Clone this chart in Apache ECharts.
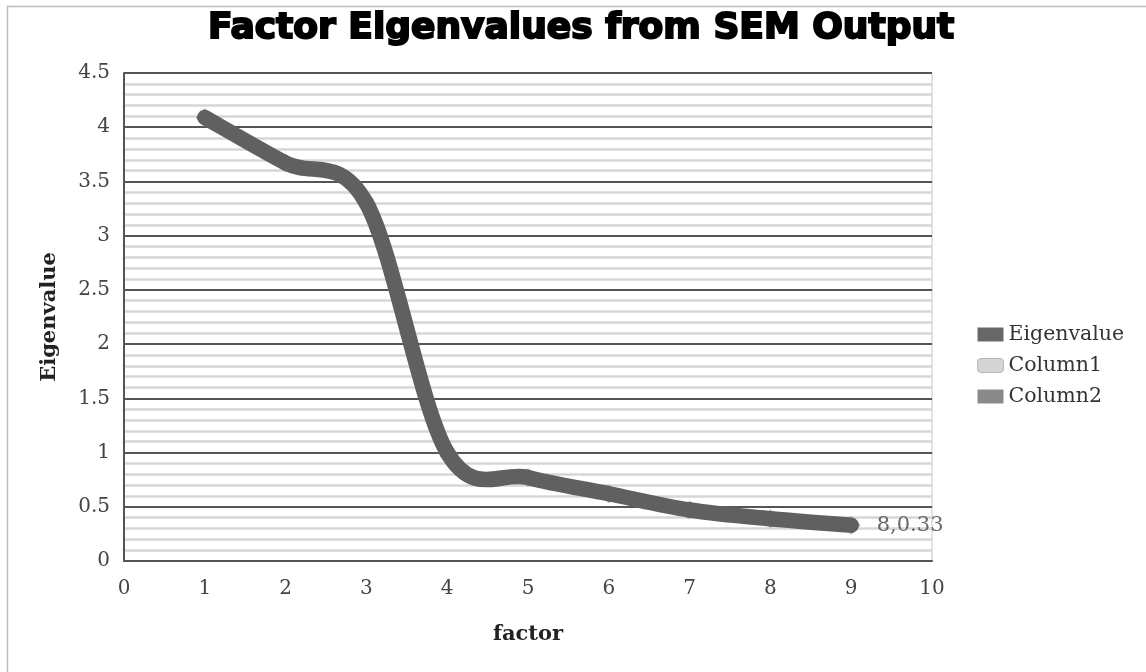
<!DOCTYPE html>
<html>
<head>
<meta charset="utf-8">
<script src="https://cdn.jsdelivr.net/npm/echarts@6/dist/echarts.min.js"></script>
<style>html,body{margin:0;padding:0;background:#fff;}#chart{width:1146px;height:672px;}</style>
</head>
<body>
<div id="chart"></div>
<script>
const factors = [1, 2, 3, 4, 5, 6, 7, 8, 9];
const eigenvalues = [4.09, 3.67, 3.3, 1.0, 0.77, 0.62, 0.47, 0.39, 0.33];
const xTicks = { min: 0, max: 10, interval: 1 };
const yTicks = { min: 0, max: 4.5, interval: 0.5 };
const lastLabel = '8,0.33';
const legendNames = ['Eigenvalue', 'Column1', 'Column2'];

const serif = 'DejaVu Serif';
const chart = echarts.init(document.getElementById('chart'), null, { renderer: 'canvas' });

function pt(api, i) {
  const j = Math.max(0, Math.min(factors.length - 1, i));
  return api.coord([factors[j], eigenvalues[j]]);
}

const option = {
  backgroundColor: '#fff',
  animation: false,
  title: {
    text: 'Factor Eigenvalues from SEM Output',
    left: 203,
    top: 6,
    textStyle: {
      fontFamily: 'DejaVu Sans', fontWeight: 'bold', fontSize: 36, color: '#000',
      textBorderColor: '#000', textBorderWidth: 2
    }
  },
  legend: {
    orient: 'vertical',
    left: 972,
    top: 319,
    itemWidth: 26,
    itemHeight: 14,
    itemGap: 10,
    textStyle: { fontFamily: serif, fontSize: 20.5, color: '#333', lineHeight: 21 },
    data: [
      { name: 'Eigenvalue', icon: 'rect', itemStyle: { color: '#686868' } },
      { name: 'Column1', icon: 'roundRect', itemStyle: { color: '#d4d4d4', borderColor: '#b8b8b8', borderWidth: 1 } },
      { name: 'Column2', icon: 'rect', itemStyle: { color: '#8a8a8a' } }
    ]
  },
  grid: {
    left: 124, right: 214, top: 73, bottom: 111,
    show: true, borderColor: '#c4c4c4', borderWidth: 1, backgroundColor: 'transparent'
  },
  xAxis: {
    type: 'value',
    min: xTicks.min, max: xTicks.max, interval: xTicks.interval,
    name: 'factor',
    nameLocation: 'middle',
    nameGap: 63,
    nameTextStyle: { fontFamily: serif, fontWeight: 'bold', fontSize: 21, color: '#222' },
    axisLine: { show: true, onZero: false, lineStyle: { color: '#555', width: 2 } },
    axisTick: { show: false },
    splitLine: { show: false },
    axisLabel: { fontFamily: serif, fontSize: 20, color: '#444', margin: 18 }
  },
  yAxis: {
    type: 'value',
    min: yTicks.min, max: yTicks.max, interval: yTicks.interval,
    name: 'Eigenvalue',
    nameLocation: 'middle',
    nameGap: 64,
    nameTextStyle: { fontFamily: serif, fontWeight: 'bold', fontSize: 21, color: '#222' },
    axisLine: { show: true, lineStyle: { color: '#555', width: 2 } },
    axisTick: { show: false },
    axisLabel: { fontFamily: serif, fontSize: 20, color: '#444', margin: 14 },
    splitLine: { show: true, lineStyle: { color: '#555', width: 2 } },
    minorTick: { show: false, splitNumber: 5 },
    minorSplitLine: { show: true, lineStyle: { color: '#d6d6d6', width: 2.5 } }
  },
  series: [
    {
      name: 'Eigenvalue markers',
      type: 'scatter',
      data: factors.map((f, i) => [f, eigenvalues[i]]),
      symbol: 'diamond',
      symbolSize: 19,
      itemStyle: { color: '#a9a9a9' },
      z: 2,
      silent: true,
      label: {
        show: true,
        position: 'right',
        distance: 16,
        fontFamily: serif, fontSize: 21, color: '#444',
        formatter: p => (p.dataIndex === factors.length - 1 ? lastLabel : '')
      }
    },
    {
      name: 'Eigenvalue',
      type: 'custom',
      z: 3,
      itemStyle: { color: '#686868' },
      data: factors.map((f, i) => [f, eigenvalues[i]]),
      renderItem: function (params, api) {
        const i = params.dataIndex;
        if (i >= factors.length - 1) return null;
        const p0 = pt(api, i - 1), p1 = pt(api, i), p2 = pt(api, i + 1), p3 = pt(api, i + 2);
        const k = 1 / 6;
        return {
          type: 'bezierCurve',
          shape: {
            x1: p1[0], y1: p1[1], x2: p2[0], y2: p2[1],
            cpx1: p1[0] + (p2[0] - p0[0]) * k, cpy1: p1[1] + (p2[1] - p0[1]) * k,
            cpx2: p2[0] - (p3[0] - p1[0]) * k, cpy2: p2[1] - (p3[1] - p1[1]) * k
          },
          style: { stroke: '#606060', lineWidth: 15.5, fill: null, lineCap: 'round', lineJoin: 'round' }
        };
      }
    },
    { name: 'Column1', type: 'line', data: [], itemStyle: { color: '#d4d4d4' } },
    { name: 'Column2', type: 'line', data: [], itemStyle: { color: '#8a8a8a' } }
  ],
  graphic: [
    {
      type: 'polyline',
      shape: { points: [[7.5, 672], [7.5, 6.5], [1146, 6.5]] },
      style: { stroke: '#bdbdbd', lineWidth: 1.5, fill: null },
      silent: true
    }
  ]
};
chart.setOption(option);
</script>
</body>
</html>
